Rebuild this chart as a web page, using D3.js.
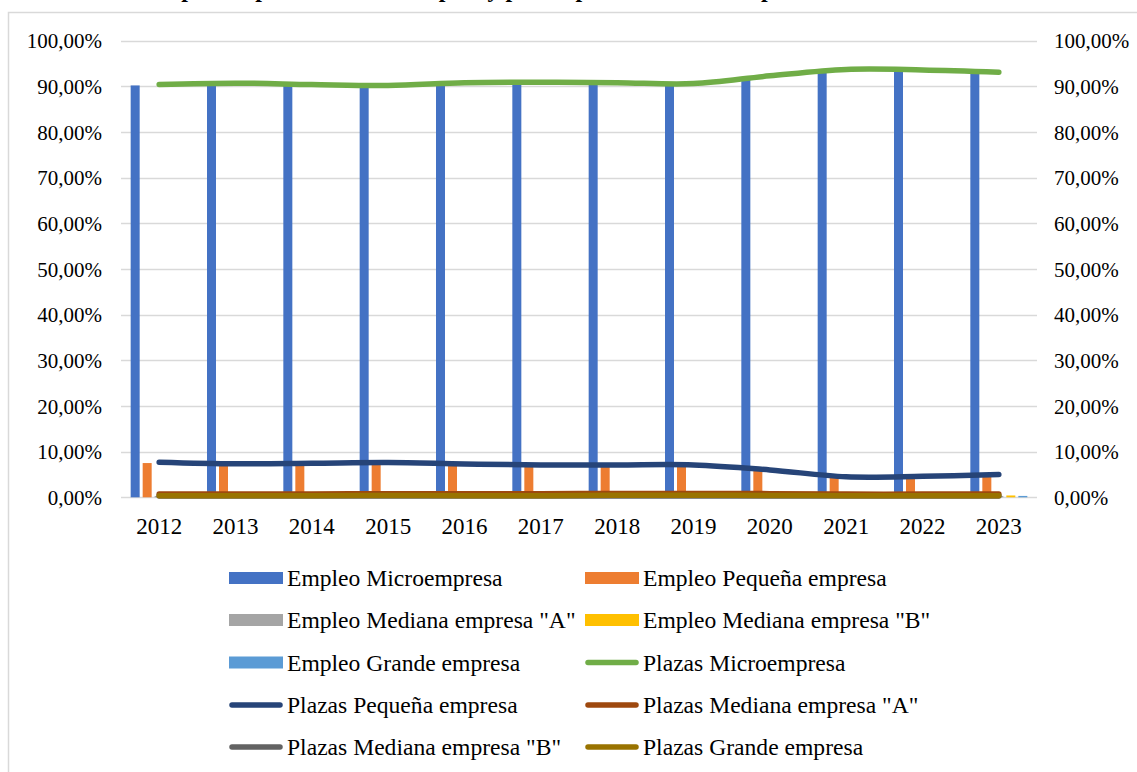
<!DOCTYPE html>
<html>
<head>
<meta charset="utf-8">
<script src="https://cdn.jsdelivr.net/npm/d3@7"></script>
<style>
  html, body { margin: 0; padding: 0; background: #fff; }
  svg { display: block; font-family: "Liberation Serif", "Times New Roman", serif; }
</style>
</head>
<body>
<svg id="chart" width="1137" height="772"></svg>
<script>
// Years on the category axis
const years = ["2012","2013","2014","2015","2016","2017","2018","2019","2020","2021","2022","2023"];

// Share of employment by company size (bars), in %
const empleoMicro    = [90.2, 90.5, 90.3, 90.0, 90.6, 90.7, 90.6, 90.4, 92.0, 93.5, 93.4, 92.9];
const empleoPequena  = [7.5, 7.1, 7.2, 7.4, 7.1, 6.9, 6.9, 6.9, 5.8, 4.3, 4.4, 4.8];
const empleoMedianaA = [0.3, 0.3, 0.3, 0.3, 0.3, 0.3, 0.3, 0.3, 0.3, 0.3, 0.3, 0.3];
const empleoMedianaB = [0.4, 0.4, 0.4, 0.4, 0.4, 0.4, 0.4, 0.4, 0.4, 0.4, 0.4, 0.4];
const empleoGrande   = [0.3, 0.3, 0.3, 0.3, 0.3, 0.3, 0.3, 0.3, 0.3, 0.3, 0.3, 0.3];

// Share of positions (plazas) by company size (lines), in %
const plazasMicro    = [90.4, 90.7, 90.4, 90.2, 90.8, 90.9, 90.8, 90.6, 92.3, 93.7, 93.6, 93.1];
const plazasPequena  = [7.7, 7.35, 7.45, 7.6, 7.3, 7.1, 7.1, 7.1, 6.0, 4.5, 4.6, 5.0];
const plazasMedianaA = [0.75, 0.75, 0.75, 0.8, 0.8, 0.8, 0.85, 0.85, 0.8, 0.7, 0.7, 0.75];
const plazasMedianaB = [0.3, 0.3, 0.3, 0.3, 0.3, 0.3, 0.3, 0.3, 0.3, 0.3, 0.3, 0.3];
const plazasGrande   = [0.35, 0.35, 0.35, 0.4, 0.35, 0.35, 0.45, 0.45, 0.4, 0.35, 0.35, 0.35];

// Axis ticks (both sides)
const yTicks = [0, 10, 20, 30, 40, 50, 60, 70, 80, 90, 100];

const barSeries = [
  { name: "Empleo Microempresa",          values: empleoMicro,    color: "#4472C4" },
  { name: "Empleo Pequeña empresa",       values: empleoPequena,  color: "#ED7D31" },
  { name: "Empleo Mediana empresa \"A\"", values: empleoMedianaA, color: "#A5A5A5" },
  { name: "Empleo Mediana empresa \"B\"", values: empleoMedianaB, color: "#FFC000" },
  { name: "Empleo Grande empresa",        values: empleoGrande,   color: "#5B9BD5" }
];
const lineSeries = [
  { name: "Plazas Microempresa",          values: plazasMicro,    color: "#70AD47" },
  { name: "Plazas Pequeña empresa",       values: plazasPequena,  color: "#264478" },
  { name: "Plazas Mediana empresa \"A\"", values: plazasMedianaA, color: "#9E480E" },
  { name: "Plazas Mediana empresa \"B\"", values: plazasMedianaB, color: "#636363" },
  { name: "Plazas Grande empresa",        values: plazasGrande,   color: "#997300" }
];

const svg = d3.select("#chart");

// Title line above the chart frame (runs past the top edge of the page)
svg.append("text")
  .attr("x", 112).attr("y", -3)
  .attr("text-anchor", "start")
  .attr("font-size", 24).attr("font-weight", "bold")
  .attr("fill", "#000")
  .text("Participación porcentual del empleo y plazas por tamaño de empresa");

// Chart frame
svg.append("rect")
  .attr("x", 8.5).attr("y", 12.5)
  .attr("width", 1150).attr("height", 780)
  .attr("fill", "none").attr("stroke", "#d9d9d9").attr("stroke-width", 1.5);

const plot = { left: 121, right: 1037, top: 40.7, bottom: 497.3 };

const x0 = d3.scaleBand().domain(years).range([plot.left, plot.right]).padding(0);
const bw = x0.bandwidth();
const x1 = d3.scaleBand()
  .domain(barSeries.map(s => s.name))
  .range([bw / 2 - 30, bw / 2 + 30])
  .paddingInner(0.25).paddingOuter(0.125);
const y = d3.scaleLinear().domain([0, 100]).range([plot.bottom, plot.top]);

const fmt = v => d3.format(".2f")(v).replace(".", ",") + "%";

// Gridlines
svg.append("g")
  .selectAll("line").data(yTicks).join("line")
  .attr("x1", plot.left).attr("x2", plot.right)
  .attr("y1", d => Math.round(y(d)) + 0.5).attr("y2", d => Math.round(y(d)) + 0.5)
  .attr("stroke", "#d9d9d9").attr("stroke-width", 1.3);

// Left axis
const leftAxis = svg.append("g")
  .attr("transform", `translate(${plot.left - 19},0)`)
  .call(d3.axisLeft(y).tickValues(yTicks).tickFormat(fmt).tickSize(0).tickPadding(0));
leftAxis.select(".domain").remove();
leftAxis.selectAll("text")
  .attr("font-family", "Liberation Serif, serif")
  .attr("font-size", 21).attr("fill", "#000").attr("dy", "0.34em");

// Right axis
const rightAxis = svg.append("g")
  .attr("transform", `translate(${plot.right + 17},0)`)
  .call(d3.axisRight(y).tickValues(yTicks).tickFormat(fmt).tickSize(0).tickPadding(0));
rightAxis.select(".domain").remove();
rightAxis.selectAll("text")
  .attr("font-family", "Liberation Serif, serif")
  .attr("font-size", 21).attr("fill", "#000").attr("dy", "0.34em");

// Bottom axis labels
const bottomAxis = svg.append("g")
  .attr("transform", `translate(0,${plot.bottom})`)
  .call(d3.axisBottom(x0).tickSize(0).tickPadding(20));
bottomAxis.select(".domain").remove();
bottomAxis.selectAll("text")
  .attr("font-family", "Liberation Serif, serif")
  .attr("font-size", 23).attr("fill", "#000");

// Bars
const groups = svg.append("g").selectAll("g").data(years).join("g")
  .attr("transform", d => `translate(${x0(d)},0)`);
groups.selectAll("rect")
  .data((yr, i) => barSeries.map(s => ({ name: s.name, color: s.color, v: s.values[i] })))
  .join("rect")
  .attr("x", d => x1(d.name))
  .attr("width", x1.bandwidth())
  .attr("y", d => y(d.v))
  .attr("height", d => y(0) - y(d.v))
  .attr("fill", d => d.color);

// Lines (smoothed)
const line = d3.line()
  .x((d, i) => x0(years[i]) + bw / 2)
  .y(d => y(d))
  .curve(d3.curveCardinal.tension(0));
svg.append("g").selectAll("path").data(lineSeries).join("path")
  .attr("d", s => line(s.values))
  .attr("fill", "none")
  .attr("stroke", s => s.color)
  .attr("stroke-width", 5.5)
  .attr("stroke-linecap", "round")
  .attr("stroke-linejoin", "round");

// Legend
const legendItems = barSeries.map(s => ({ ...s, type: "bar" }))
  .concat(lineSeries.map(s => ({ ...s, type: "line" })));
const colX = [229, 585];
const rowY = [578, 620, 662.5, 705, 747];
const legend = svg.append("g");
legendItems.forEach((item, i) => {
  const cx = colX[i % 2];
  const cy = rowY[Math.floor(i / 2)];
  const g = legend.append("g").attr("transform", `translate(${cx},${cy})`);
  if (item.type === "bar") {
    g.append("rect").attr("x", 0).attr("y", -6).attr("width", 54).attr("height", 12).attr("fill", item.color);
  } else {
    g.append("line").attr("x1", 3).attr("x2", 51).attr("y1", 0).attr("y2", 0)
      .attr("stroke", item.color).attr("stroke-width", 5.5).attr("stroke-linecap", "round");
  }
  g.append("text").attr("x", 58).attr("y", 0).attr("dy", "0.34em")
    .attr("font-size", 23.6).attr("fill", "#000").text(item.name);
});
</script>
</body>
</html>
